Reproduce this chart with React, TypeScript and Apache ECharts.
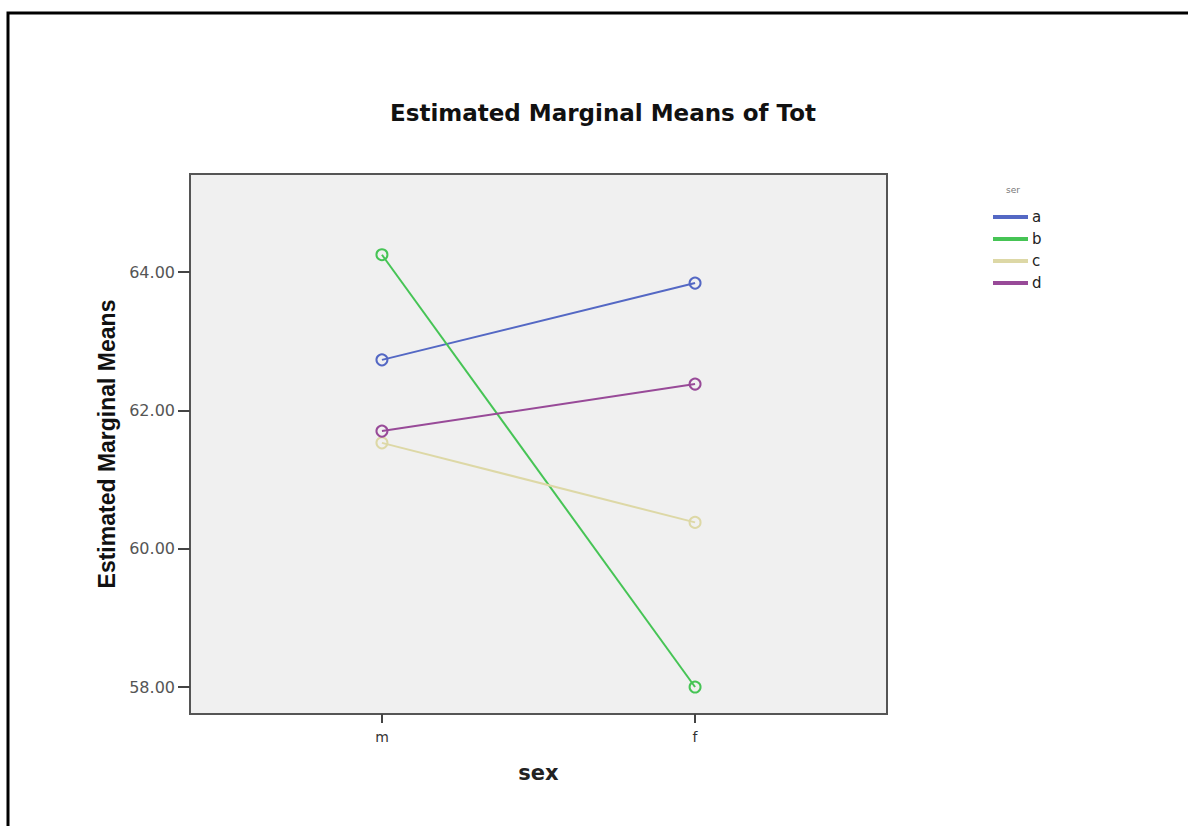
import React, { useEffect, useRef } from "react";
import * as echarts from "echarts";

const categories = ["m", "f"];
const groupNames = ["a", "b", "c", "d"];
const seriesA = [62.73, 63.84];
const seriesB = [64.25, 58.0];
const seriesC = [61.53, 60.38];
const seriesD = [61.7, 62.38];
const yTicks = [58, 60, 62, 64];
const colors = ["#5468c4", "#46c455", "#ddd8a6", "#984a98"];

export default function App() {
  const ref = useRef<HTMLDivElement>(null);
  useEffect(() => {
    if (!ref.current) return;
    const chart = echarts.init(ref.current, undefined, { renderer: "svg" });
    const values = [seriesA, seriesB, seriesC, seriesD];
    chart.setOption({
      animation: false,
      backgroundColor: "#ffffff",
      title: {
        text: "Estimated Marginal Means of Tot",
        left: 385,
        top: 96,
        textStyle: { fontFamily: "DejaVu Sans", fontWeight: "bold", fontSize: 23, color: "#111" },
      },
      legend: {
        orient: "vertical",
        left: 988,
        top: 201,
        icon: "rect",
        itemWidth: 33,
        itemHeight: 2,
        itemGap: 0,
        data: groupNames,
        textStyle: { fontFamily: "DejaVu Sans", fontSize: 15, color: "#222", lineHeight: 22 },
      },
      graphic: [
        {
          type: "rect",
          shape: { x: 8, y: 13, width: 1400, height: 1000 },
          style: { fill: "none", stroke: "#000", lineWidth: 3 },
          silent: true,
        },
        {
          type: "text",
          x: 1013,
          y: 190,
          style: { text: "ser", fontFamily: "DejaVu Sans", fontSize: 9, fill: "#777", align: "center", verticalAlign: "middle" },
        },
      ],
      grid: {
        left: 190,
        top: 174,
        width: 697,
        height: 540,
        show: true,
        backgroundColor: "#f0f0f0",
        borderColor: "#555",
        borderWidth: 2,
      },
      xAxis: {
        type: "value",
        min: -0.613,
        max: 1.613,
        name: "sex",
        nameLocation: "middle",
        nameGap: 48,
        nameTextStyle: { fontFamily: "DejaVu Sans", fontWeight: "bold", fontSize: 21, color: "#222" },
        axisLine: { show: true, onZero: false, lineStyle: { color: "#555", width: 2 } },
        splitLine: { show: false },
        axisTick: { show: true, inside: false, length: 9, customValues: [0, 1], lineStyle: { color: "#444", width: 2 } },
        axisLabel: {
          customValues: [0, 1],
          margin: 16,
          fontFamily: "DejaVu Sans",
          fontSize: 14,
          color: "#333",
          formatter: (v: number) => categories[Math.round(v)] ?? "",
        },
      },
      yAxis: {
        type: "value",
        min: 57.61,
        max: 65.417,
        name: "Estimated Marginal Means",
        nameLocation: "middle",
        nameGap: 67,
        nameTextStyle: { fontFamily: "Liberation Sans", fontWeight: "bold", fontSize: 23, color: "#111" },
        axisLine: { show: true, onZero: false, lineStyle: { color: "#555", width: 2 } },
        splitLine: { show: false },
        axisTick: { show: true, inside: false, length: 12, customValues: yTicks, lineStyle: { color: "#444", width: 2 } },
        axisLabel: {
          customValues: yTicks,
          margin: 15,
          fontFamily: "DejaVu Sans",
          fontSize: 16,
          color: "#555",
          formatter: (v: number) => v.toFixed(2),
        },
      },
      series: groupNames.map((name, i) => ({
        name,
        type: "line",
        data: values[i].map((v, j) => [j, v]),
        color: colors[i],
        symbol: "circle",
        symbolSize: 11,
        lineStyle: { width: 2, color: colors[i] },
        itemStyle: { color: "transparent", borderColor: colors[i], borderWidth: 2 },
      })),
    });
    return () => chart.dispose();
  }, []);
  return <div ref={ref} style={{ position: "fixed", left: 0, top: 0, width: 1188, height: 826 }} />;
}
